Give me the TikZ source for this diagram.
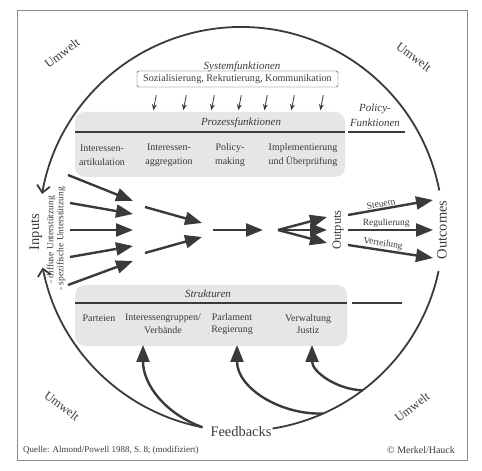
\documentclass[tikz,border=0pt]{standalone}
\usepackage{fontspec}
\setmainfont{Liberation Serif}
\usetikzlibrary{calc, positioning, arrows.meta}
\definecolor{ink}{HTML}{3A3A3A}
\definecolor{panefill}{HTML}{E6E6E6}
\tikzstyle{txt}=[inner sep=1pt, text=ink, align=center, font=\fontsize{10}{12.5}\selectfont]
\tikzstyle{lbl}=[inner sep=1pt, text=ink, font=\fontsize{9.5}{11}\selectfont]
\tikzstyle{hd}=[inner sep=1pt, text=ink, align=center, font=\fontsize{11}{15}\selectfont\itshape]
\tikzstyle{big}=[inner sep=1pt, text=ink, font=\fontsize{14.5}{16}\selectfont]
\tikzstyle{env}=[inner sep=1pt, text=ink, font=\fontsize{12.5}{14}\selectfont]
\tikzstyle{pane}=[fill=panefill, rounded corners=10bp, inner sep=0pt]
\tikzstyle{rule}=[draw=ink, line width=1.2bp]
\tikzstyle{frm}=[draw=black!45, line width=0.6bp]
\tikzstyle{ring}=[draw=ink, line width=1.8bp]
\tikzstyle{flow}=[draw=ink, line width=2.4bp, -{Triangle[length=17bp,width=13bp]}]
\tikzstyle{tk}=[draw=ink, line width=0.8bp, -{Stealth[length=6bp,width=5bp]}]
\tikzset{>=stealth}

\begin{document}
\begin{tikzpicture}[x=1bp, y=1bp]
\useasboundingbox (0,0) rectangle (482,471);
\draw[frm] (17,11) rectangle (467,461);
\coordinate (o) at (241,242);
%
\draw[ring, -{Straight Barb[length=7bp,width=13bp]}] ($(o)+(11:202)$) arc[start angle=11, end angle=170, radius=202];
\draw[ring, -{Straight Barb[length=7bp,width=13bp]}] ($(o)+(-101:202)$) arc[start angle=-101, end angle=-169, radius=202];
\draw[ring] ($(o)+(-12:202)$) arc[start angle=-12, end angle=-81, radius=202];
%
\node[env, rotate=37] (u1) at (62,418) {Umwelt};
\node[env, rotate=-37] (u2) at (414,414) {Umwelt};
\node[env, rotate=-37] (u3) at (62,65) {Umwelt};
\node[env, rotate=37] (u4) at (412,64) {Umwelt};
%
\node[hd] (sf) at (242,404) {Systemfunktionen};
\node[txt, draw=ink, rounded corners=1.5bp, minimum width=201bp, minimum height=16bp, font=\fontsize{10.2}{12}\selectfont] (sys) at (237.5,392) {Sozialisierung, Rekrutierung, Kommunikation};
\draw[tk] ([xshift=19.5bp, yshift=-8bp]sys.south west) -- ++(-3,-15);
\draw[tk] ([xshift=49.5bp, yshift=-8bp]sys.south west) -- ++(-3,-15);
\draw[tk] ([xshift=77.5bp, yshift=-8bp]sys.south west) -- ++(-3,-15);
\draw[tk] ([xshift=104.5bp, yshift=-8bp]sys.south west) -- ++(-3,-15);
\draw[tk] ([xshift=130.5bp, yshift=-8bp]sys.south west) -- ++(-3,-15);
\draw[tk] ([xshift=157.5bp, yshift=-8bp]sys.south west) -- ++(-3,-15);
\draw[tk] ([xshift=186.5bp, yshift=-8bp]sys.south west) -- ++(-3,-15);
%
\node[pane, minimum width=270bp, minimum height=65bp] (pf) at (210,326.5) {};
\node[hd] (pft) at (241,348) {Prozessfunktionen};
\draw[rule] (75,339) -- (345,339);
\draw[rule] (348,339) -- (405,339);
\node[hd] (pol) at (375,356) {Policy-\\Funktionen};
\node[txt, font=\fontsize{10}{14}\selectfont] (c1) at (102,315.5) {Interessen-\\artikulation};
\node[txt, font=\fontsize{10}{14}\selectfont] (c2) at (169,315.5) {Interessen-\\aggregation};
\node[txt, font=\fontsize{10}{14}\selectfont] (c3) at (230,315.5) {Policy-\\making};
\node[txt, font=\fontsize{10}{14}\selectfont] (c4) at (303,315.5) {Implementierung\\und Überprüfung};
%
\node[pane, minimum width=272bp, minimum height=61bp] (sp) at (211,155.5) {};
\node[hd] (spt) at (208,177) {Strukturen};
\draw[rule] (75,168) -- (347,168);
\draw[rule] (352,168) -- (402,168);
\node[txt] (g1) at (99,153) {Parteien};
\node[txt] (g2) at (163,147) {Interessengruppen/\\Verbände};
\node[txt] (g3) at (232,147) {Parlament\\Regierung};
\node[txt] (g4) at (308,147) {Verwaltung\\Justiz};
%
\node[big, rotate=90] (inp) at (36,239) {Inputs};
\node[lbl, rotate=90, anchor=west] (d1) at (51,186) {- diffuse Unterstützung};
\node[lbl, rotate=90, anchor=west] (d2) at (61,179) {- spezifische Unterstützung};
\node[env, rotate=90] (outp) at (338,241) {Outputs};
\node[big, rotate=90] (outc) at (442,241) {Outcomes};
\node[big] (fbk) at (241,39) {Feedbacks};
%
\coordinate (i1) at (68,296); \coordinate (j1) at (133,270);
\coordinate (i2) at (70,268); \coordinate (j2) at (133,257);
\coordinate (i3) at (70,241); \coordinate (j3) at (133,241);
\coordinate (i4) at (70,214); \coordinate (j4) at (133,225);
\coordinate (i5) at (68,186); \coordinate (j5) at (133,210);
\coordinate (k1) at (145,264); \coordinate (l1) at (202,248);
\coordinate (k2) at (145,218); \coordinate (l2) at (202,234);
\coordinate (m) at (213,241); \coordinate (n) at (263,241);
\coordinate (p) at (278,241);
\coordinate (q1) at (327,254); \coordinate (q2) at (327,241); \coordinate (q3) at (327,228);
\coordinate (r1) at (348,256); \coordinate (t1) at (433,271);
\coordinate (r2) at (348,241); \coordinate (t2) at (433,241);
\coordinate (r3) at (348,226); \coordinate (t3) at (433,213);
%
\draw[flow] (i1) -- (j1);
\draw[flow] (i2) -- (j2);
\draw[flow] (i3) -- (j3);
\draw[flow] (i4) -- (j4);
\draw[flow] (i5) -- (j5);
\draw[flow] (k1) -- (l1);
\draw[flow] (k2) -- (l2);
\draw[flow] (m) -- (n);
\draw[flow] (p) -- (q1);
\draw[flow] (p) -- (q2);
\draw[flow] (p) -- (q3);
\draw[flow] (r1) -- node[lbl, sloped, above, pos=0.4] {Steuern} (t1);
\draw[flow] (r2) -- node[lbl, sloped, above, pos=0.45] {Regulierung} (t2);
\draw[flow] (r3) -- node[lbl, sloped, above, pos=0.4] {Verteilung} (t3);
%
\coordinate (fa) at ($(o)+(-101:202)$);
\coordinate (fb) at ($(o)+(-66:202)$);
\coordinate (fc) at ($(o)+(-53:202)$);
\coordinate (ta) at (143,126);
\coordinate (tb) at (237,126);
\coordinate (tc) at (312,126);
\draw[flow] (fa) to[out=160, in=-90] (ta);
\draw[flow] (fb) to[out=182, in=-90] (tb);
\draw[flow] (fc) to[out=178, in=-90] (tc);
%
\node[lbl, anchor=west, font=\fontsize{9}{11}\selectfont] (src) at (22,21) {Quelle: Almond/Powell 1988, S. 8; (modifiziert)};
\node[lbl, anchor=east, font=\fontsize{10}{12}\selectfont] (cpy) at (456,21) {© Merkel/Hauck};
\end{tikzpicture}
\end{document}
